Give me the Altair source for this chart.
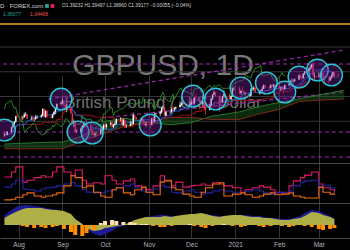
import altair as alt
import pandas as pd

# ---------------- data ----------------
dates = [d.strftime("%Y-%m-%d") for d in pd.bdate_range("2020-07-22", "2021-03-15")
         if d.strftime("%m-%d") not in ("12-25", "01-01")]

opens = [
1.2720,1.2735,1.2725,
1.2790,1.2885,1.2935,1.2995,1.3095,
1.3085,1.3075,1.3085,1.3130,1.3145,
1.3055,1.3065,1.3045,1.3045,1.3075,
1.3090,1.3115,1.3245,1.3090,1.3210,
1.3085,1.3070,1.3140,1.3190,1.3250,
1.3350,1.3370,1.3420,1.3320,1.3260,
1.3280,1.3160,1.2990,1.3000,1.2790,
1.2795,1.2850,1.2910,1.2960,1.2945,
1.2920,1.2820,1.2730,1.2725,1.2750,
1.2745,1.2830,1.2840,1.2920,1.2885,
1.2940,1.2970,1.2885,1.2925,1.2950,
1.3045,1.3050,1.2925,1.3030,1.2910,
1.2915,1.2945,1.2945,1.3115,1.3080,
1.3045,1.3030,1.3045,1.2975,1.2925,
1.2945,1.2935,1.3055,1.2985,1.3150,
1.3155,1.3180,1.3270,1.3275,1.3110,
1.3190,1.3190,1.3255,1.3245,1.3265,
1.3290,1.3335,1.3360,1.3365,1.3355,
1.3320,1.3345,1.3385,1.3360,1.3475,
1.3440,1.3385,1.3360,1.3375,1.3285,
1.3230,1.3320,1.3455,1.3535,1.3585,
1.3515,1.3440,1.3390,1.3500,
1.3550,1.3445,1.3505,1.3665,
1.3670,1.3570,1.3610,1.3605,1.3560,
1.3565,1.3515,1.3650,1.3655,1.3675,
1.3585,1.3595,1.3610,1.3655,1.3730,
1.3685,1.3675,1.3730,1.3705,1.3735,
1.3705,1.3665,1.3665,1.3670,1.3645,
1.3735,1.3755,1.3815,1.3820,1.3820,
1.3845,1.3925,1.3890,1.3870,1.3960,
1.4010,1.4070,1.4095,1.4140,1.3925,
1.3925,1.3935,1.3950,1.3965,1.3885,
1.3835,1.3825,1.3885,1.3925,1.3990,
1.3923]

highs = [
1.2765,1.2770,1.2800,
1.2890,1.2950,1.3005,1.3110,1.3170,
1.3115,1.3105,1.3175,1.3185,1.3150,
1.3110,1.3120,1.3070,1.3130,1.3115,
1.3145,1.3265,1.3265,1.3225,1.3230,
1.3130,1.3150,1.3205,1.3285,1.3360,
1.3405,1.3480,1.3425,1.3335,1.3345,
1.3285,1.3175,1.3035,1.3010,1.2840,
1.2875,1.2925,1.2985,1.3005,1.2990,
1.2935,1.2840,1.2805,1.2775,1.2780,
1.2855,1.2895,1.2945,1.2975,1.2955,
1.2995,1.3005,1.2945,1.2995,1.3060,
1.3080,1.3085,1.3060,1.3035,1.2945,
1.3010,1.2990,1.3175,1.3140,1.3080,
1.3065,1.3075,1.3055,1.3005,1.2990,
1.2985,1.3070,1.3140,1.3175,1.3175,
1.3215,1.3290,1.3310,1.3280,1.3195,
1.3230,1.3275,1.3310,1.3290,1.3295,
1.3395,1.3375,1.3395,1.3385,1.3365,
1.3390,1.3445,1.3440,1.3485,1.3540,
1.3445,1.3435,1.3525,1.3385,1.3295,
1.3360,1.3475,1.3550,1.3625,1.3595,
1.3520,1.3480,1.3515,1.3625,
1.3575,1.3520,1.3680,1.3705,
1.3705,1.3630,1.3705,1.3625,1.3590,
1.3575,1.3670,1.3685,1.3710,1.3700,
1.3625,1.3640,1.3700,1.3745,1.3740,
1.3720,1.3745,1.3760,1.3755,1.3760,
1.3745,1.3700,1.3705,1.3700,1.3740,
1.3775,1.3830,1.3865,1.3850,1.3865,
1.3950,1.3955,1.3925,1.3975,1.4015,
1.4085,1.4150,1.4160,1.4240,1.3985,
1.3990,1.3975,1.4015,1.3990,1.3890,
1.3880,1.3900,1.3940,1.4000,1.4000,
1.3950]

lows = [
1.2690,1.2700,1.2715,
1.2770,1.2855,1.2900,1.2970,1.3055,
1.3005,1.3030,1.3065,1.3100,1.3045,
1.3020,1.3010,1.2995,1.3030,1.3050,
1.3070,1.3105,1.3080,1.3070,1.3060,
1.3055,1.3060,1.3120,1.3145,1.3235,
1.3325,1.3350,1.3295,1.3240,1.3185,
1.3150,1.2950,1.2885,1.2770,1.2765,
1.2765,1.2830,1.2875,1.2865,1.2895,
1.2805,1.2720,1.2715,1.2690,1.2705,
1.2740,1.2805,1.2810,1.2860,1.2845,
1.2915,1.2875,1.2865,1.2915,1.2940,
1.3000,1.2905,1.2910,1.2865,1.2865,
1.2895,1.2915,1.2935,1.3045,1.3015,
1.2995,1.3000,1.2950,1.2915,1.2880,
1.2855,1.2915,1.2915,1.2980,1.3085,
1.3100,1.3155,1.3225,1.3105,1.3105,
1.3140,1.3160,1.3230,1.3200,1.3235,
1.3275,1.3310,1.3335,1.3330,1.3305,
1.3310,1.3325,1.3340,1.3345,1.3430,
1.3225,1.3330,1.3305,1.3245,1.3135,
1.3220,1.3300,1.3430,1.3525,1.3495,
1.3185,1.3320,1.3375,1.3480,
1.3435,1.3430,1.3495,1.3615,
1.3540,1.3535,1.3580,1.3540,1.3520,
1.3450,1.3500,1.3620,1.3620,1.3580,
1.3540,1.3555,1.3600,1.3650,1.3660,
1.3620,1.3660,1.3700,1.3670,1.3690,
1.3640,1.3610,1.3630,1.3565,1.3640,
1.3700,1.3745,1.3790,1.3775,1.3795,
1.3840,1.3875,1.3830,1.3865,1.3930,
1.3985,1.4030,1.4050,1.3915,1.3860,
1.3890,1.3875,1.3910,1.3855,1.3775,
1.3775,1.3810,1.3850,1.3905,1.3880,
1.3896]

closes = [
1.2735,1.2725,1.2790,
1.2885,1.2935,1.2995,1.3095,1.3085,
1.3075,1.3085,1.3130,1.3145,1.3055,
1.3065,1.3045,1.3045,1.3075,1.3090,
1.3115,1.3245,1.3090,1.3210,1.3085,
1.3070,1.3140,1.3190,1.3250,1.3350,
1.3370,1.3420,1.3320,1.3260,1.3280,
1.3160,1.2990,1.3000,1.2790,1.2795,
1.2850,1.2910,1.2960,1.2945,1.2920,
1.2820,1.2730,1.2725,1.2750,1.2745,
1.2830,1.2840,1.2920,1.2885,1.2940,
1.2970,1.2885,1.2925,1.2950,1.3045,
1.3050,1.2925,1.3030,1.2910,1.2915,
1.2945,1.2945,1.3115,1.3080,1.3045,
1.3030,1.3045,1.2975,1.2925,1.2945,
1.2935,1.3055,1.2985,1.3150,1.3155,
1.3180,1.3270,1.3275,1.3110,1.3190,
1.3190,1.3255,1.3245,1.3265,1.3290,
1.3335,1.3360,1.3365,1.3355,1.3320,
1.3345,1.3385,1.3360,1.3475,1.3440,
1.3385,1.3360,1.3375,1.3285,1.3230,
1.3320,1.3455,1.3535,1.3585,1.3515,
1.3440,1.3390,1.3500,1.3550,
1.3445,1.3505,1.3665,1.3670,
1.3570,1.3610,1.3605,1.3560,1.3565,
1.3515,1.3650,1.3655,1.3675,1.3585,
1.3595,1.3610,1.3655,1.3730,1.3685,
1.3675,1.3730,1.3705,1.3735,1.3705,
1.3665,1.3665,1.3670,1.3645,1.3735,
1.3755,1.3815,1.3820,1.3820,1.3845,
1.3925,1.3890,1.3870,1.3960,1.4010,
1.4070,1.4095,1.4140,1.3925,1.3925,
1.3935,1.3950,1.3965,1.3885,1.3835,
1.3825,1.3885,1.3925,1.3990,1.3923,
1.3918]

# Ichimoku cloud spans
span_dates = ["2020-07-22","2020-08-07","2020-08-21","2020-09-01","2020-09-15","2020-10-01",
              "2020-10-15","2020-11-01","2020-11-16","2020-12-01","2020-12-15","2021-01-04",
              "2021-01-18","2021-02-01","2021-02-15","2021-03-01","2021-03-19"]
span_a = [1.2540,1.2560,1.2575,1.2580,1.2700,1.3000,1.3060,1.2980,1.2930,1.2973,1.3100,
          1.3190,1.3300,1.3380,1.3450,1.3530,1.3630]
span_b = [1.2444,1.2444,1.2444,1.2444,1.2600,1.2758,1.2900,1.2980,1.3079,1.3079,1.3038,
          1.3038,1.3150,1.3240,1.3400,1.3425,1.3450]

# highlighted circles
circle_dates = ["2020-07-22","2020-08-31","2020-09-12","2020-09-22","2020-11-02","2020-12-02",
                "2020-12-18","2021-01-05","2021-01-23","2021-02-05","2021-02-15","2021-02-28",
                "2021-03-10"]
circle_prices = [1.2823,1.3449,1.2783,1.2763,1.2924,1.3510,1.3449,1.3672,1.3773,1.3591,
                 1.3894,1.4035,1.3934]

grid_prices = [1.25, 1.30, 1.35, 1.40, 1.45]
orange_level = [1.4965]
dashed_levels = [1.4157, 1.2783, 1.2278]
trend_dates = ["2020-08-22", "2021-03-19", "2020-09-29", "2021-03-19"]
trend_prices = [1.3449, 1.4439, 1.3066, 1.3591]
trend_ids = ["upper", "upper", "lower", "lower"]

# indicator panels (every third session)
ind_dates = dates[::3]
adx = [41,49,57,33,36,40,43,41,49,57,49,43,52,36,30,32,30,43,36,30,35,38,27,24,21,27,43,36,
       27,33,25,27,28,30,28,32,30,27,24,17,21,24,27,25,21,17,16,27,35,40,44,49,30,24,21,17]
plus_di = [25,30,36,22,21,19,22,24,25,27,30,32,27,21,17,16,16,19,21,24,27,30,24,19,17,22,28,25,
           17,16,19,21,17,14,16,19,21,19,17,16,19,21,19,16,14,16,17,19,27,33,35,36,25,28,24,21]
minus_di = [5,6,9,13,16,11,9,11,13,16,27,43,40,24,27,17,11,9,21,24,16,13,21,25,17,13,33,35,
            24,21,14,11,9,17,24,30,32,11,14,16,13,9,11,14,16,13,14,16,11,9,8,8,25,17,14,16]
macd = [.0035,.0055,.0065,.008,.0085,.0085,.0085,.008,.0075,.0075,.007,.0055,.003,.0005,-.0015,
        -.003,-.0025,-.0015,-.001,-.0005,0,.0015,.0025,.0035,.004,.004,.004,.0045,.004,.0045,.005,
        .0055,.0055,.006,.0055,.0045,.004,.0045,.005,.005,.0045,.004,.004,.0035,.0035,.003,.0025,
        .0025,.003,.0035,.0045,.0065,.006,.005,.004,.003]
signal = [.005,.0075,.009,.01,.01,.0095,.009,.0085,.008,.0075,.0065,.005,.003,.0005,-.002,-.0045,
          -.0055,-.0045,-.003,-.0015,-.0005,.0005,.002,.003,.004,.0045,.005,.005,.0045,.0045,.005,
          .005,.0055,.0055,.0055,.005,.0045,.0045,.0045,.005,.005,.0045,.0045,.004,.0035,.0035,
          .003,.003,.0035,.0045,.006,.0075,.007,.006,.0045,.003]
hist = [0,0,0,-.0005,-.001,-.0015,-.001,-.0015,-.001,-.0005,-.002,-.0035,-.005,-.0055,-.004,
        -.0025,.001,.002,.0025,.002,.0015,.0015,.001,.0005,.0005,-.0005,-.001,-.001,-.0005,0,0,
        .0005,-.0005,-.001,-.0015,-.0005,0,.0005,-.0005,-.001,-.0005,0,-.0005,-.001,-.0005,0,
        -.0005,-.001,-.0005,0,-.0005,-.001,-.002,-.0025,-.002,-.0015]

TITLE = "GBPUSD, 1D"
SUBTITLE = "British Pound / U.S. Dollar"
HEADER = "D · FOREX.com"
OHLC = "O1.39232 H1.39497 L1.38960 C1.39177 −0.00055 (−0.04%)"
LINE2 = ["1.36077", "1.34468"]

# ---------------- frames ----------------
candles = pd.DataFrame({"date": dates, "open": opens, "high": highs, "low": lows, "close": closes})
cloud = pd.DataFrame({"date": span_dates, "a": span_a, "b": span_b})
circles = pd.DataFrame({"date": circle_dates, "price": circle_prices})
trends = pd.DataFrame({"date": trend_dates, "price": trend_prices, "id": trend_ids})
ind = pd.DataFrame({"date": ind_dates, "adx": adx, "plus_di": plus_di, "minus_di": minus_di,
                    "macd": macd, "signal": signal, "hist": hist})

FONT = "Liberation Sans"
MONTHS = [(2020, 8), (2020, 9), (2020, 10), (2020, 11), (2020, 12), (2021, 1), (2021, 2), (2021, 3)]
X_SCALE = alt.Scale(type="utc", domain=[
    alt.DateTime(year=2020, month=7, date=22, hours=9, minutes=36, utc=True),
    alt.DateTime(year=2021, month=3, date=19, hours=12, utc=True)])
X_AXIS = alt.Axis(
    values=[alt.DateTime(year=y, month=m, date=1, utc=True) for y, m in MONTHS],
    labelExpr="utcFormat(datum.value, '%m') == '01' ? utcFormat(datum.value, '%Y') : utcFormat(datum.value, '%b')",
    title=None, grid=True, gridColor="#363636", gridWidth=1, domain=True, domainColor="#4a4a4a",
    ticks=False, labelColor="#b2b5be", labelFontSize=6.5, labelFont=FONT, labelPadding=3)


def X(field="date"):
    return alt.X(f"{field}:T", scale=X_SCALE, axis=X_AXIS)


Y_MAIN = alt.Scale(domain=[1.2157, 1.5450], range=[163, 0])
Y_DMI = alt.Scale(domain=[0, 60], range=[203, 165])
Y_MACD = alt.Scale(domain=[-0.006, 0.010], range=[237, 205])


def YM(field):
    return alt.Y(f"{field}:Q", scale=Y_MAIN, axis=None)


one = pd.DataFrame({"t": [0]})

# watermark texts
wm1 = alt.Chart(pd.DataFrame({"t": [TITLE]})).mark_text(
    font=FONT, fontSize=30, color="#a0a0a0", opacity=0.75, align="center", baseline="middle"
).encode(text="t:N", x=alt.value(163), y=alt.value(66))
wm2 = alt.Chart(pd.DataFrame({"t": [SUBTITLE]})).mark_text(
    font=FONT, fontSize=17, color="#a0a0a0", opacity=0.7, align="center", baseline="middle"
).encode(text="t:N", x=alt.value(163), y=alt.value(102.5))

hgrid = alt.Chart(pd.DataFrame({"p": grid_prices})).mark_rule(color="#363636", strokeWidth=1).encode(y=YM("p"))
orange = alt.Chart(pd.DataFrame({"p": orange_level})).mark_rule(color="#f5a623", strokeWidth=1.5).encode(y=YM("p"))
dashed = alt.Chart(pd.DataFrame({"p": dashed_levels})).mark_rule(
    color="#9c27b0", strokeDash=[4, 3], strokeWidth=1.2).encode(y=YM("p"))
trend = alt.Chart(trends).mark_line(color="#9c27b0", strokeDash=[4, 3], strokeWidth=1.2).encode(
    x=X(), y=YM("price"), detail="id:N")

cloud_area = alt.Chart(cloud).mark_area(color="#1b5e20", opacity=0.45).encode(x=X(), y=YM("a"), y2="b")
span_a_line = alt.Chart(cloud).mark_line(color="#2e7d32", strokeWidth=0.9).encode(x=X(), y=YM("a"))
span_b_line = alt.Chart(cloud).mark_line(color="#8d2a1f", strokeWidth=0.9).encode(x=X(), y=YM("b"))

base = alt.Chart(candles)
tenkan = base.transform_window(
    hh="max(high)", ll="min(low)", frame=[-8, 0], sort=[{"field": "date"}]
).transform_calculate(v="(datum.hh + datum.ll) / 2").mark_line(
    color="#1e5bd8", strokeWidth=0.9, interpolate="step-after").encode(x=X(), y=YM("v"))
kijun = base.transform_window(
    hh="max(high)", ll="min(low)", frame=[-25, 0], sort=[{"field": "date"}]
).transform_calculate(v="(datum.hh + datum.ll) / 2").mark_line(
    color="#a31515", strokeWidth=0.9, interpolate="step-after").encode(x=X(), y=YM("v"))
chikou = base.transform_window(
    window=[{"op": "lead", "field": "close", "param": 26, "as": "chikou"}], sort=[{"field": "date"}]
).transform_filter("isValid(datum.chikou)").mark_line(color="#33a02c", strokeWidth=0.8).encode(
    x=X(), y=YM("chikou"))

candle_color = alt.condition("datum.close >= datum.open", alt.value("#ffffff"), alt.value("#f23645"))
wicks = base.mark_rule(strokeWidth=0.7).encode(x=X(), y=YM("low"), y2="high", color=candle_color)
bodies = base.mark_bar(width=1.4).encode(x=X(), y=YM("open"), y2="close", color=candle_color)

rings = alt.Chart(circles).mark_circle(
    size=470, fill="#7b1fa2", fillOpacity=0.38, stroke="#2ec5d8", strokeWidth=1.4, strokeOpacity=1
).encode(x=X(), y=YM("price"))

hdr = alt.Chart(pd.DataFrame({"t": [HEADER]})).mark_text(
    font=FONT, fontSize=6, color="#d1d4dc", align="left", baseline="middle"
).encode(text="t:N", x=alt.value(0), y=alt.value(6))
ohlc = alt.Chart(pd.DataFrame({"t": [OHLC]})).mark_text(
    font=FONT, fontSize=4.8, color="#d1d4dc", align="left", baseline="middle"
).encode(text="t:N", x=alt.value(62), y=alt.value(6))
dot1 = alt.Chart(one).mark_square(size=14, color="#26a69a", opacity=1).encode(x=alt.value(47), y=alt.value(6))
dot2 = alt.Chart(one).mark_square(size=14, color="#e91e63", opacity=1).encode(x=alt.value(52.5), y=alt.value(6))
l2a = alt.Chart(pd.DataFrame({"t": [LINE2[0]]})).mark_text(
    font=FONT, fontSize=5, color="#26a69a", align="left", baseline="middle"
).encode(text="t:N", x=alt.value(3), y=alt.value(14))
l2b = alt.Chart(pd.DataFrame({"t": [LINE2[1]]})).mark_text(
    font=FONT, fontSize=5, color="#ef5350", align="left", baseline="middle"
).encode(text="t:N", x=alt.value(30), y=alt.value(14))

main = alt.layer(wm1, wm2, hgrid, orange, dashed, trend, cloud_area, span_a_line, span_b_line,
                 kijun, tenkan, chikou, wicks, bodies, rings, hdr, ohlc, dot1, dot2, l2a, l2b)

# separators
sep1 = alt.Chart(one).mark_rule(color="#4a4a4a", strokeWidth=1).encode(y=alt.value(163.5))
sep2 = alt.Chart(one).mark_rule(color="#4a4a4a", strokeWidth=1).encode(y=alt.value(203.5))

dmi = alt.Chart(ind).transform_fold(["adx", "plus_di", "minus_di"], as_=["k", "v"]).mark_line(
    interpolate="step-after", strokeWidth=1.1
).encode(
    x=X(), y=alt.Y("v:Q", scale=Y_DMI, axis=None),
    color=alt.Color("k:N", scale=alt.Scale(domain=["adx", "plus_di", "minus_di"],
                                           range=["#e0196b", "#2424a8", "#f06a0f"]), legend=None))
dmi_layer = alt.layer(sep1, dmi)

YMA = lambda f: alt.Y(f"{f}:Q", scale=Y_MACD, axis=None)
sig_area = alt.Chart(ind).mark_area(color="#1c1c9a", opacity=0.95).encode(x=X(), y=YMA("signal"), y2=alt.datum(0))
macd_area = alt.Chart(ind).mark_area(color="#c9c93a", opacity=0.85).encode(x=X(), y=YMA("macd"), y2=alt.datum(0))
hist_bars = alt.Chart(ind).mark_bar(width=4).encode(
    x=X(), y=YMA("hist"), y2=alt.datum(0),
    color=alt.condition("datum.hist < 0", alt.value("#ff8f00"), alt.value("#ffe0b2")))
macd_layer = alt.layer(sep2, sig_area, macd_area, hist_bars)

chart = alt.layer(main, dmi_layer, macd_layer).resolve_scale(y="independent", color="independent").properties(
    width=350, height=238,
    padding={"left": 0, "right": 0, "top": 0, "bottom": 12},
    autosize=alt.AutoSizeParams(type="none"),
    background="#000000",
).configure_view(stroke=None)

chart.save("out.html", embed_options={"renderer": "svg", "actions": False})
